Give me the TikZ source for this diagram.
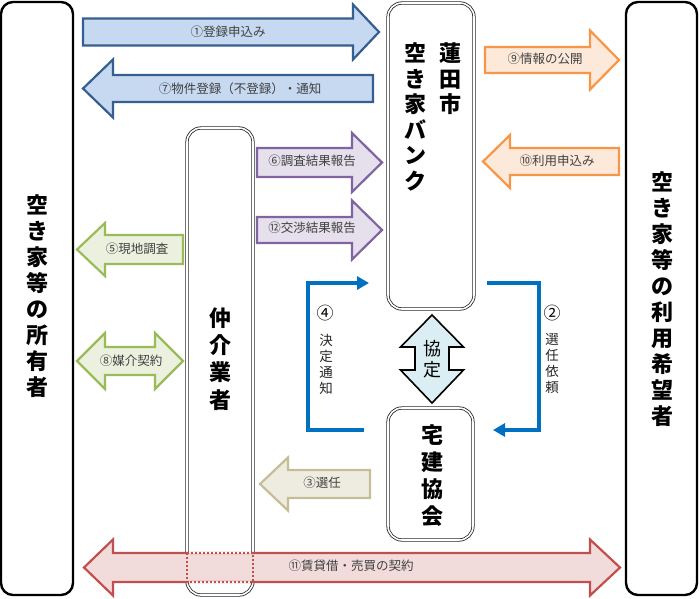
\documentclass[tikz,border=0pt]{standalone}
\usepackage{fontspec}
\setmainfont{Noto Sans CJK JP}
\usetikzlibrary{arrows.meta}
\definecolor{labelgray}{HTML}{404040}
\definecolor{bluefl}{HTML}{C6D9F1}
\definecolor{bluebd}{HTML}{365F91}
\definecolor{orfl}{HTML}{FDE9D9}
\definecolor{orbd}{HTML}{F79646}
\definecolor{pufl}{HTML}{E5E0EC}
\definecolor{pubd}{HTML}{8064A2}
\definecolor{grfl}{HTML}{EBF1DE}
\definecolor{grbd}{HTML}{9BBB59}
\definecolor{tnfl}{HTML}{EEECE1}
\definecolor{tnbd}{HTML}{C4BD97}
\definecolor{rdfl}{HTML}{F2DCDB}
\definecolor{rdbd}{HTML}{C0504D}
\definecolor{kyfl}{HTML}{DAEEF3}
\definecolor{connblue}{HTML}{0070C0}
\newcommand\ArrR[7]{\path[#1] ({#2},{#5-#6}) -- ({#3},{#5-#6}) -- ({#3},{#5-#7}) -- ({#4},{#5}) -- ({#3},{#5+#7}) -- ({#3},{#5+#6}) -- ({#2},{#5+#6}) -- cycle;}
\newcommand\ArrL[7]{\path[#1] ({#2},{#5}) -- ({#3},{#5-#7}) -- ({#3},{#5-#6}) -- ({#4},{#5-#6}) -- ({#4},{#5+#6}) -- ({#3},{#5+#6}) -- ({#3},{#5+#7}) -- cycle;}
\newcommand\ArrLR[8]{\path[#1] ({#2},{#6}) -- ({#3},{#6-#8}) -- ({#3},{#6-#7}) -- ({#4},{#6-#7}) -- ({#4},{#6-#8}) -- ({#5},{#6}) -- ({#4},{#6+#8}) -- ({#4},{#6+#7}) -- ({#3},{#6+#7}) -- ({#3},{#6+#8}) -- cycle;}
\tikzset{
  box/.style={draw=black, line width=2.4pt, rounded corners=12pt},
  dbox/.style={draw=black!85, double=white, double distance=1.6pt, line width=0.8pt, rounded corners=14pt},
  lbl/.style={text=labelgray, font=\fontsize{12.5}{14}\selectfont, inner sep=0pt},
  vlbl/.style={text=black!85, font=\fontsize{13.5}{16}\selectfont, align=center, inner sep=0pt},
  num/.style={text=black, font=\fontsize{17}{18}\selectfont, inner sep=0pt},
  ttl/.style={text=black, font=\bfseries\fontsize{22}{26}\selectfont, align=center, inner sep=0pt},
  conn/.style={draw=connblue, line width=4pt, line join=miter, -{Triangle[length=12pt,width=13pt]}},
  arr/.style={line width=2.2pt, line join=miter},
  blueA/.style={arr, draw=bluebd, fill=bluefl},
  orA/.style={arr, draw=orbd, fill=orfl},
  puA/.style={arr, draw=pubd, fill=pufl},
  grA/.style={arr, draw=grbd, fill=grfl},
  tnA/.style={arr, draw=tnbd, fill=tnfl},
  rdA/.style={arr, draw=rdbd, fill=rdfl},
  kyA/.style={line width=1.6pt, line join=miter, draw=black, fill=kyfl},
}
\begin{document}
\begin{tikzpicture}[x=1pt, y=-1pt]
\useasboundingbox (0,0) rectangle (700,598);
% main boxes
\draw[box] (1,2) rectangle (73,595);
\draw[box] (626,2) rectangle (697,595);
\draw[dbox] (388,3) rectangle (474,309);
\draw[dbox] (187,128) rectangle (253,595);
\draw[dbox] (388,408) rectangle (473,540);
% box titles
\node[ttl] (owner) at (37,296) {空\\き\\家\\等\\の\\所\\有\\者};
\node[ttl] (user) at (662,299.5) {空\\き\\家\\等\\の\\利\\用\\希\\望\\者};
\node[ttl, font=\bfseries\fontsize{22}{25.5}\selectfont] (bank1) at (450,79) {蓮\\田\\市};
\node[ttl, font=\bfseries\fontsize{22}{25.5}\selectfont] (bank2) at (415,117) {空\\き\\家\\バ\\ン\\ク};
\node[ttl, font=\bfseries\fontsize{22}{27.3}\selectfont] (agent) at (220,359) {仲\\介\\業\\者};
\node[ttl, font=\bfseries\fontsize{22}{27}\selectfont] (assoc) at (432,475.5) {宅\\建\\協\\会};
% block arrows
\ArrR{blueA}{83}{353}{379}{32}{13.5}{27.5}
\node[lbl] (l1) at (228,32) {①登録申込み};
\ArrL{blueA}{83}{113}{373}{88.5}{13.5}{29}
\node[lbl] (l7) at (240,88.5) {⑦物件登録（不登録）・通知};
\ArrR{orA}{485}{590}{619}{60}{13}{29.5}
\node[lbl] (l9) at (545,59) {⑨情報の公開};
\ArrL{orA}{483}{510}{619}{161.5}{13.5}{26.5}
\node[lbl] (l10) at (557,161) {⑩利用申込み};
\ArrR{puA}{257}{352}{382}{162.5}{14.5}{29.5}
\node[lbl] (l6) at (312,161) {⑥調査結果報告};
\ArrR{puA}{257}{352}{382}{230}{13}{29.5}
\node[lbl] (l12) at (312,228) {⑫交渉結果報告};
\ArrL{grA}{77}{105}{183}{249.5}{14.5}{26.5}
\node[lbl] (l5) at (137,249) {⑤現地調査};
\ArrLR{grA}{77}{105}{155}{183}{361}{14}{28}
\node[lbl] (l8) at (131,361) {⑧媒介契約};
\ArrL{tnA}{260}{288}{370}{484}{14}{26.5}
\node[lbl] (l3) at (322,483) {③選任};
\ArrLR{rdA}{84}{113}{590}{620}{567.5}{14.5}{28}
% where the contract arrow crosses the agent box, its outline is dotted
\fill[white] (188.6,551.6) rectangle (251.4,553);
\fill[rdfl] (188.6,553) rectangle (251.4,554.4);
\fill[rdfl] (188.6,580.6) rectangle (251.4,582);
\fill[white] (188.6,582) rectangle (251.4,583.4);
\draw[rdbd, line width=1.5pt, dash pattern=on 2pt off 2pt] (187,553) rectangle (253,582);
\node[lbl] (l11) at (351,566) {⑪賃貸借・売買の契約};
% agreement arrow
\path[kyA] (432,315) -- (463.5,347) -- (449,347) -- (449,370) -- (463.5,370) -- (432,403) -- (400.5,370) -- (415,370) -- (415,347) -- (400.5,347) -- cycle;
\node[font=\fontsize{18}{21}\selectfont, align=center, inner sep=0pt] (kyotei) at (432,359) {協\\定};
% blue connectors
\coordinate (a4s) at (364,430);
\coordinate (a4c1) at (308,430);
\coordinate (a4c2) at (308,283);
\coordinate (a4e) at (369,283);
\draw[conn] (a4s) -- (a4c1) -- (a4c2) -- (a4e);
\coordinate (a2s) at (487,283);
\coordinate (a2c1) at (539,283);
\coordinate (a2c2) at (539,430);
\coordinate (a2e) at (493,430);
\draw[conn] (a2s) -- (a2c1) -- (a2c2) -- (a2e);
\node[num] (n4) at (325,313) {④};
\node[vlbl] (t4) at (326,364) {決\\定\\通\\知};
\node[num] (n2) at (552,313) {②};
\node[vlbl] (t2) at (552,364) {選\\任\\依\\頼};
\end{tikzpicture}
\end{document}
